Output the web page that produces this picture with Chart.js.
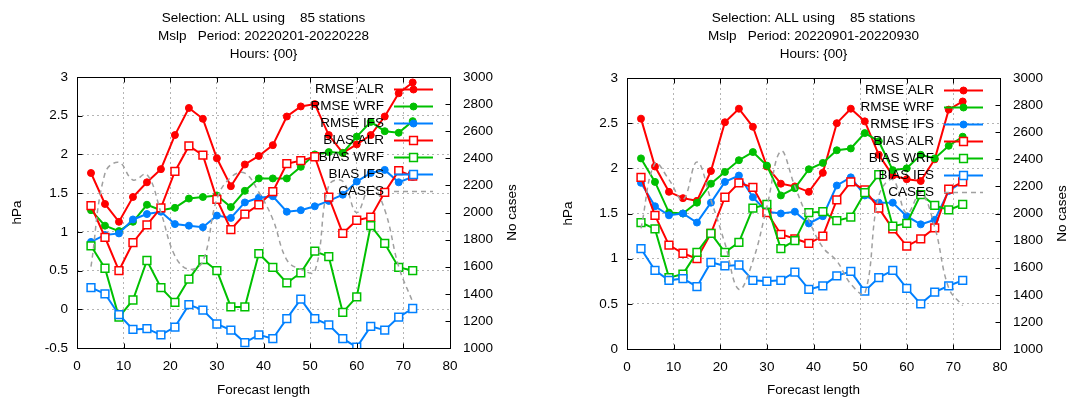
<!DOCTYPE html>
<html>
<head>
<meta charset="utf-8">
<script src="https://cdn.jsdelivr.net/npm/chart.js@4.4.1/dist/chart.umd.min.js"></script>
<style>
  html, body { margin:0; padding:0; background:#fff; }
  #wrap { position:relative; width:1073px; height:401px; }
  canvas { position:absolute; top:0; }
  #c1 { left:0; }
  #c2 { left:537px; }
</style>
</head>
<body>
<div id="wrap">
  <canvas id="c1" width="537" height="401"></canvas>
  <canvas id="c2" width="536" height="401"></canvas>
</div>
<script>
// ── DATA ──────────────────────────────────────────────────
const LEADS = [3,6,9,12,15,18,21,24,27,30,33,36,39,42,45,48,51,54,57,60,63,66,69,72];
const SERIES_NAMES = ['RMSE ALR','RMSE WRF','RMSE IFS','BIAS ALR','BIAS WRF','BIAS IFS','CASES'];

// February 2022
const FEB_RMSE_ALR = [1.76,1.36,1.13,1.45,1.64,1.81,2.25,2.60,2.46,1.95,1.59,1.87,1.98,2.12,2.49,2.62,2.65,2.25,2.02,2.13,2.25,2.49,2.79,2.93];
const FEB_RMSE_WRF = [1.28,1.08,1.01,1.13,1.35,1.28,1.31,1.43,1.45,1.47,1.32,1.53,1.69,1.69,1.69,1.84,2.00,2.03,2.02,2.23,2.42,2.30,2.28,2.43];
const FEB_RMSE_IFS = [0.87,0.96,0.98,1.16,1.23,1.26,1.10,1.08,1.06,1.21,1.18,1.38,1.44,1.46,1.26,1.28,1.33,1.40,1.48,1.65,1.76,1.80,1.64,1.71];
const FEB_BIAS_ALR = [1.34,0.93,0.50,0.86,1.09,1.31,1.78,2.11,1.99,1.42,1.03,1.23,1.35,1.52,1.88,1.92,1.97,1.45,0.98,1.15,1.19,1.51,1.79,1.72];
const FEB_BIAS_WRF = [0.82,0.53,-0.10,0.12,0.63,0.28,0.09,0.39,0.64,0.50,0.03,0.03,0.72,0.54,0.34,0.47,0.75,0.68,-0.04,0.16,1.08,0.85,0.54,0.50];
const FEB_BIAS_IFS = [0.28,0.20,-0.07,-0.26,-0.25,-0.33,-0.23,0.06,-0.01,-0.19,-0.27,-0.43,-0.33,-0.38,-0.12,0.13,-0.12,-0.20,-0.38,-0.49,-0.22,-0.27,-0.10,0.01];
const FEB_CASES    = [1600,2290,2370,2240,2280,2000,1680,1580,1640,2100,2260,2290,2150,1950,1650,1580,1565,2200,2230,2000,2200,2020,1600,1340];

// September 2022
const SEP_RMSE_ALR = [2.55,2.02,1.74,1.67,1.64,1.97,2.51,2.66,2.46,2.02,1.83,1.80,1.74,1.95,2.50,2.66,2.52,2.15,1.92,1.88,1.86,2.10,2.65,2.74];
const SEP_RMSE_WRF = [2.11,1.85,1.51,1.50,1.62,1.83,1.96,2.09,2.18,2.03,1.70,1.78,1.99,2.06,2.20,2.22,2.39,2.30,1.98,2.00,2.15,2.11,2.25,2.35];
const SEP_RMSE_IFS = [1.84,1.58,1.48,1.50,1.40,1.62,1.85,1.92,1.68,1.52,1.50,1.52,1.39,1.47,1.81,1.90,1.70,1.62,1.62,1.47,1.38,1.43,1.75,1.85];
const SEP_BIAS_ALR = [1.90,1.48,1.15,1.06,1.00,1.28,1.68,1.84,1.79,1.51,1.27,1.22,1.17,1.25,1.65,1.85,1.76,1.56,1.33,1.14,1.22,1.34,1.77,1.85];
const SEP_BIAS_WRF = [1.40,1.33,0.79,0.83,1.07,1.28,1.07,1.18,1.56,1.60,1.11,1.20,1.51,1.52,1.42,1.46,1.73,1.93,1.36,1.39,1.71,1.59,1.54,1.60];
const SEP_BIAS_IFS = [1.11,0.87,0.76,0.78,0.69,0.96,0.92,0.93,0.76,0.75,0.76,0.85,0.66,0.70,0.81,0.86,0.64,0.79,0.87,0.67,0.50,0.63,0.70,0.76];
const SEP_CASES    = [1890,2370,2250,2100,2380,2100,1780,1440,1650,2050,2460,2200,1950,1750,1650,1480,1410,2130,2250,2000,2150,1900,1450,1320];

const FEB_TITLE = ['Selection: ALL using    85 stations','Mslp   Period: 20220201-20220228','Hours: {00}'];
const SEP_TITLE = ['Selection: ALL using    85 stations','Mslp   Period: 20220901-20220930','Hours: {00}'];

// ── STYLE ─────────────────────────────────────────────────
const RED = '#ff0000', GREEN = '#00c000', BLUE = '#0080ff', GRAY = '#a0a0a0';
const GRID = '#b4b4b4';
const FONT_FAMILY = '"Liberation Sans", Arial, Helvetica, sans-serif';
const FONT = { family: FONT_FAMILY, size: 13.5 };
const TXT = '#000';

const pts = arr => arr.map((v, i) => ({ x: LEADS[i], y: v }));

function lineSet(label, data, color, kind) {
  const filled = kind === 'rmse';
  return {
    label, data: pts(data), yAxisID: 'y',
    borderColor: color, borderWidth: 2,
    pointStyle: filled ? 'circle' : 'rect',
    pointRadius: filled ? 3.5 : 5.5,
    pointBorderWidth: filled ? 1 : 1.5,
    pointBackgroundColor: filled ? color : '#fff',
    pointBorderColor: color,
    tension: 0,
  };
}

// ── FRAME, INWARD TICKS, LEGEND ───────────────────────────
const gnuFrame = {
  id: 'gnuFrame',
  afterDatasetsDraw(chart) {
    const { ctx, chartArea: a, scales } = chart;
    ctx.save();
    ctx.setLineDash([]);
    ctx.strokeStyle = '#000';
    ctx.lineWidth = 1;
    const L = Math.round(a.left) + 0.5, R = Math.round(a.right) + 0.5;
    const T = Math.round(a.top) + 0.5, B = Math.round(a.bottom) + 0.5;
    ctx.strokeRect(L, T, R - L, B - T);

    const tl = 5;
    ctx.beginPath();
    scales.x.ticks.forEach(t => {
      const px = Math.round(scales.x.getPixelForValue(t.value)) + 0.5;
      ctx.moveTo(px, B); ctx.lineTo(px, B - tl);
      ctx.moveTo(px, T); ctx.lineTo(px, T + tl);
    });
    scales.y.ticks.forEach(t => {
      const py = Math.round(scales.y.getPixelForValue(t.value)) + 0.5;
      ctx.moveTo(L, py); ctx.lineTo(L + tl, py);
    });
    scales.y2.ticks.forEach(t => {
      const py = Math.round(scales.y2.getPixelForValue(t.value)) + 0.5;
      ctx.moveTo(R, py); ctx.lineTo(R - tl, py);
    });
    ctx.stroke();

    // legend, gnuplot style: text then sample
    ctx.font = `${FONT.size}px ${FONT_FAMILY}`;
    ctx.textAlign = 'right';
    ctx.textBaseline = 'middle';
    chart.data.datasets.forEach((ds, i) => {
      const y = Math.round(a.top + 12 + i * 17) + 0.5;
      const x1 = a.right - 56, x2 = a.right - 17;
      ctx.fillStyle = TXT;
      ctx.fillText(ds.label, a.right - 66, y);
      ctx.strokeStyle = ds.borderColor;
      ctx.lineWidth = ds.borderWidth;
      ctx.setLineDash(ds.borderDash || []);
      ctx.beginPath(); ctx.moveTo(x1, y); ctx.lineTo(x2, y); ctx.stroke();
      ctx.setLineDash([]);
      if (ds.pointRadius > 0) {
        ctx.fillStyle = ds.pointBackgroundColor;
        ctx.strokeStyle = ds.pointBorderColor;
        ctx.lineWidth = ds.pointBorderWidth;
        Chart.helpers.drawPoint(ctx, { pointStyle: ds.pointStyle, radius: ds.pointRadius, borderWidth: ds.pointBorderWidth, rotation: 0 }, (x1 + x2) / 2, y);
      }
    });

    // right axis title, reading bottom to top
    ctx.fillStyle = TXT;
    ctx.textAlign = 'center';
    ctx.translate(a.right + 62, (a.top + a.bottom) / 2);
    ctx.rotate(-Math.PI / 2);
    ctx.fillText('No cases', 0, 0);
    ctx.restore();
  }
};

// ── PANEL ─────────────────────────────────────────────────
function makePanel(id, p) {
  const datasets = [
    lineSet(SERIES_NAMES[0], p.rmseAlr, RED, 'rmse'),
    lineSet(SERIES_NAMES[1], p.rmseWrf, GREEN, 'rmse'),
    lineSet(SERIES_NAMES[2], p.rmseIfs, BLUE, 'rmse'),
    lineSet(SERIES_NAMES[3], p.biasAlr, RED, 'bias'),
    lineSet(SERIES_NAMES[4], p.biasWrf, GREEN, 'bias'),
    lineSet(SERIES_NAMES[5], p.biasIfs, BLUE, 'bias'),
    {
      label: SERIES_NAMES[6], data: pts(p.cases), yAxisID: 'y2',
      borderColor: GRAY, borderWidth: 1.5, borderDash: [5, 4],
      pointRadius: 0, tension: 0.4,
    },
  ];
  // gnuplot draws in order: later series on top
  datasets.forEach((d, i) => { d.order = datasets.length - i; });

  const innerGrid = (lo, hi) => c => (c.tick && (c.tick.value === lo || c.tick.value === hi)) ? 'rgba(0,0,0,0)' : GRID;

  new Chart(document.getElementById(id), {
    type: 'line',
    data: { datasets },
    options: {
      responsive: false,
      animation: false,
      layout: { padding: 0 },
      plugins: {
        legend: { display: false },
        tooltip: { enabled: false },
        title: {
          display: true, fullSize: false, text: p.title, color: TXT,
          font: { ...FONT, weight: 'normal', lineHeight: 18 / 13.5 },
          padding: { top: 9, bottom: p.titleGap },
        },
      },
      scales: {
        x: {
          type: 'linear', min: 0, max: 80,
          ticks: { stepSize: 10, color: TXT, font: FONT, padding: 10, maxRotation: 0, callback: v => String(v) },
          grid: { color: innerGrid(0, 80), lineWidth: 1, drawTicks: false },
          border: { display: false, dash: [2, 3] },
          title: { display: true, text: 'Forecast length', color: TXT, font: FONT, padding: { top: 0, bottom: 3 } },
          afterFit: s => { s.height = p.bottomH; },
        },
        y: {
          position: 'left', min: p.yMin, max: 3,
          ticks: { stepSize: 0.5, color: TXT, font: FONT, padding: 9, callback: v => String(v) },
          grid: { color: innerGrid(p.yMin, 3), lineWidth: 1, drawTicks: false },
          border: { display: false, dash: [2, 3] },
          title: { display: true, text: 'hPa', color: TXT, font: FONT, padding: { top: p.hpaPad, bottom: 0 } },
          afterFit: s => { s.width = p.leftW; },
        },
        y2: {
          position: 'right', min: 1000, max: 3000,
          ticks: { stepSize: 200, color: TXT, font: FONT, padding: 13, callback: v => String(v) },
          grid: { drawOnChartArea: false, drawTicks: false },
          border: { display: false },
          afterFit: s => { s.width = p.rightW; },
        },
      },
    },
    plugins: [gnuFrame],
  });
}

makePanel('c1', {
  title: FEB_TITLE, yMin: -0.5,
  rmseAlr: FEB_RMSE_ALR, rmseWrf: FEB_RMSE_WRF, rmseIfs: FEB_RMSE_IFS,
  biasAlr: FEB_BIAS_ALR, biasWrf: FEB_BIAS_WRF, biasIfs: FEB_BIAS_IFS, cases: FEB_CASES,
  titleGap: 14, bottomH: 53, leftW: 77, rightW: 87, hpaPad: 9,
});
makePanel('c2', {
  title: SEP_TITLE, yMin: 0,
  rmseAlr: SEP_RMSE_ALR, rmseWrf: SEP_RMSE_WRF, rmseIfs: SEP_RMSE_IFS,
  biasAlr: SEP_BIAS_ALR, biasWrf: SEP_BIAS_WRF, biasIfs: SEP_BIAS_IFS, cases: SEP_CASES,
  titleGap: 15, bottomH: 52, leftW: 90, rightW: 73, hpaPad: 23,
});
</script>
</body>
</html>
